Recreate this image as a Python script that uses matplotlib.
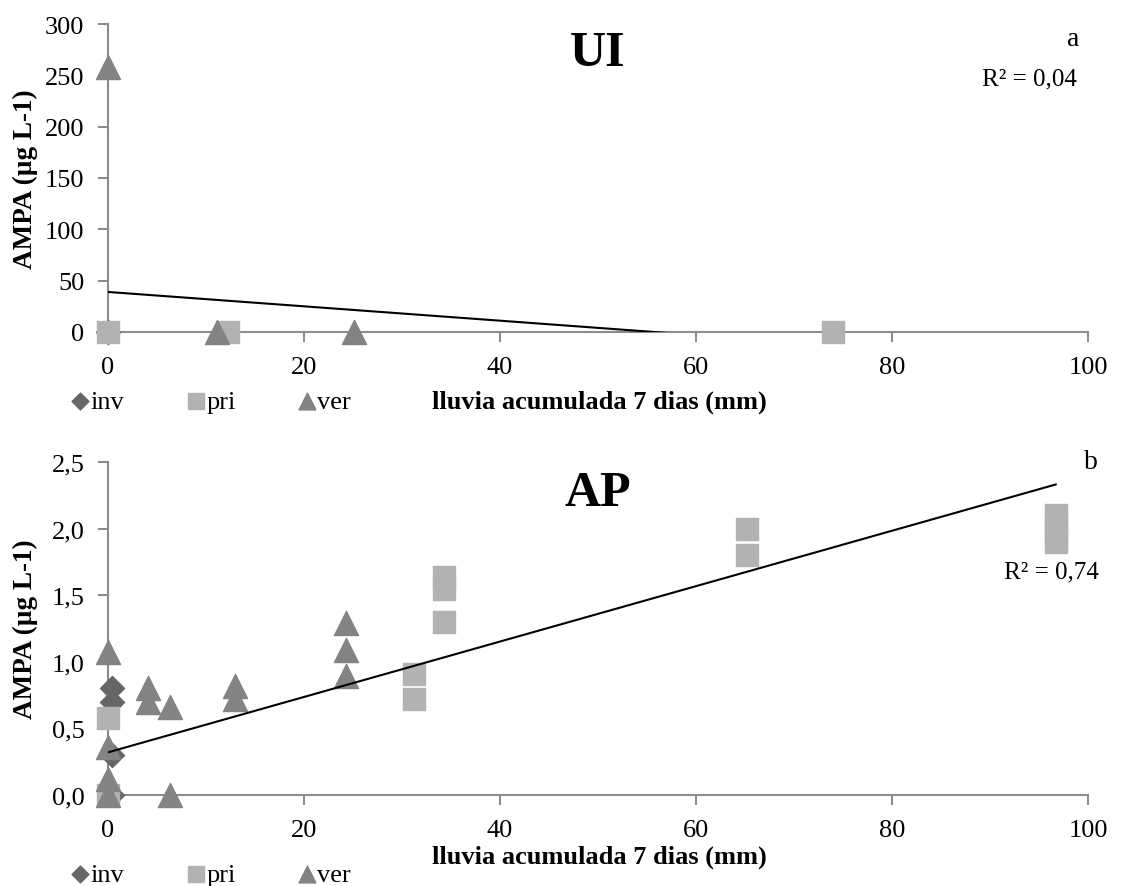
import numpy as np
import matplotlib
matplotlib.use('Agg')
import matplotlib.pyplot as plt
from matplotlib.ticker import FuncFormatter

plt.rcParams['font.family'] = ['Liberation Serif', 'DejaVu Serif']

# UI panel (a)
ui_inv_x = [0]
ui_inv_y = [0]
ui_pri_x = [0, 12.2, 74]
ui_pri_y = [0, 0, 0]
ui_ver_x = [0, 11.1, 25.1]
ui_ver_y = [258, 0, 0]
ui_fit = (39.0, -0.70)      # intercept, slope
ui_fit_range = (0, 74)

# AP panel (b)
ap_inv_x = [0.4, 0.4, 0.4, 0.4]
ap_inv_y = [0.80, 0.70, 0.30, 0.0]
ap_pri_x = [0, 0, 31.2, 31.2, 34.3, 34.3, 34.3, 65.2, 65.2, 96.7, 96.7, 96.7, 96.7]
ap_pri_y = [0.58, 0.0, 0.91, 0.72, 1.64, 1.55, 1.30, 2.00, 1.80, 2.10, 2.03, 1.95, 1.90]
ap_ver_x = [0, 0, 0, 0, 4.1, 4.1, 6.3, 6.3, 13.0, 13.0, 24.3, 24.3, 24.3]
ap_ver_y = [1.07, 0.36, 0.12, 0.0, 0.80, 0.70, 0.66, 0.0, 0.82, 0.72, 1.29, 1.09, 0.89]
ap_fit = (0.32, 0.0208)
ap_fit_range = (0, 96.7)

c_inv = '#666666'
c_pri = '#b2b2b2'
c_ver = '#838383'
spine_c = '#8c8c8c'

fig = plt.figure(figsize=(11.21, 8.87), dpi=100)
ax1 = fig.add_axes([0.0963, 0.6246, 0.8743, 0.3472])
ax2 = fig.add_axes([0.0963, 0.1026, 0.8743, 0.3754])


def draw(ax, inv, pri, ver, fit, fit_range, ylim, yticks, fmt):
    ax.scatter(*inv, marker='D', s=150, color=c_inv, label='inv', zorder=3, clip_on=False)
    ax.scatter(*pri, marker='s', s=250, color=c_pri, label='pri', zorder=3, clip_on=False)
    ax.scatter(*ver, marker='^', s=300, color=c_ver, label='ver', zorder=3, clip_on=False)
    xs = np.array(fit_range)
    ax.plot(xs, fit[0] + fit[1] * xs, color='black', lw=1.5, zorder=4)
    ax.set_xlim(0, 100)
    ax.set_ylim(*ylim)
    ax.set_xticks([0, 20, 40, 60, 80, 100])
    ax.set_yticks(yticks)
    ax.yaxis.set_major_formatter(FuncFormatter(fmt))
    for s in ['top', 'right']:
        ax.spines[s].set_visible(False)
    for s in ['left', 'bottom']:
        ax.spines[s].set_color(spine_c)
        ax.spines[s].set_linewidth(1.5)
    ax.tick_params(colors=spine_c, width=1.5, length=7, labelsize=19,
                   labelcolor='black', direction='out')
    ax.tick_params(axis='y', pad=10)
    ax.tick_params(axis='x', pad=10)
    ax.set_ylabel('AMPA (µg L-1)', fontsize=19.5, fontweight='bold')
    ax.yaxis.set_label_coords(-0.071, 0.5)


draw(ax1, (ui_inv_x, ui_inv_y), (ui_pri_x, ui_pri_y), (ui_ver_x, ui_ver_y),
     ui_fit, ui_fit_range, (0, 300), [0, 50, 100, 150, 200, 250, 300],
     lambda v, p: f'{v:.0f}')
draw(ax2, (ap_inv_x, ap_inv_y), (ap_pri_x, ap_pri_y), (ap_ver_x, ap_ver_y),
     ap_fit, ap_fit_range, (0, 2.5), [0, 0.5, 1.0, 1.5, 2.0, 2.5],
     lambda v, p: f'{v:.1f}'.replace('.', ','))

ax1.set_title('UI', fontsize=36, fontweight='bold', y=0.84)
ax2.set_title('AP', fontsize=36, fontweight='bold', y=0.845)

fig.text(0.957, 0.955, 'a', fontsize=20, va='center', ha='center')
fig.text(0.918, 0.91, 'R² = 0,04', fontsize=18, va='center', ha='center')
fig.text(0.973, 0.479, 'b', fontsize=20, va='center', ha='center')
fig.text(0.938, 0.355, 'R² = 0,74', fontsize=18, va='center', ha='center')

fig.text(0.535, 0.547, 'lluvia acumulada 7 dias (mm)', fontsize=19,
         fontweight='bold', ha='center', va='center')
fig.text(0.535, 0.034, 'lluvia acumulada 7 dias (mm)', fontsize=19,
         fontweight='bold', ha='center', va='center')

leg_kw = dict(ncol=3, frameon=False, fontsize=19, handlelength=0.6,
              handletextpad=0.1, columnspacing=2.4, borderaxespad=0,
              loc='center left', markerscale=0.7)
fig.legend(*ax1.get_legend_handles_labels(), bbox_to_anchor=(0.055, 0.547), **leg_kw)
fig.legend(*ax2.get_legend_handles_labels(), bbox_to_anchor=(0.055, 0.013), **leg_kw)

fig.savefig('out.png', dpi=100)
